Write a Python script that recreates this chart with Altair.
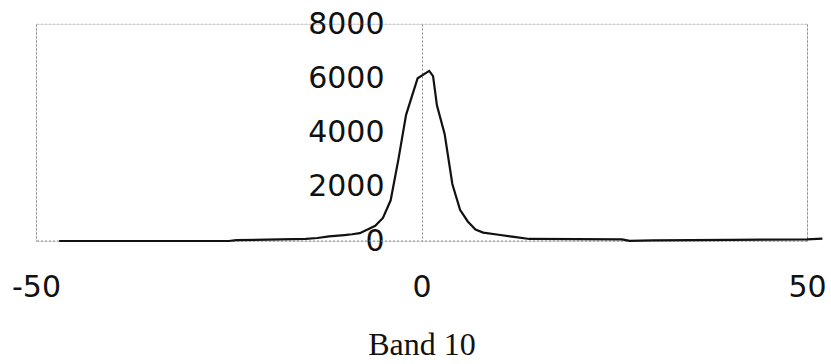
import altair as alt
import pandas as pd

# Band 10 profile: offset vs. intensity
band_offset = [-47, -40, -30, -25, -24, -20, -15, -13.5, -12, -10, -9, -8, -7, -6, -5, -4,
               -3, -2, -1, -0.5, 1, 1.5, 2, 3, 4, 5, 6, 7, 8, 10, 12, 14, 20, 26, 27, 30, 40, 50, 52]
intensity = [0, 0, 0, 0, 30, 50, 75, 110, 170, 220, 250, 290, 420, 560, 850, 1500,
             3000, 4650, 5550, 6000, 6270, 6080, 5000, 3950, 2100, 1150, 720, 420, 310, 230, 150, 75, 70, 60, 5, 20, 40, 60, 90]

x_ticks = [-50, 0, 50]
y_ticks = [0, 2000, 4000, 6000, 8000]
h_grid = [0, 8000]
h_grid_opacity = [1.0, 0.35]

profile = pd.DataFrame({"offset": band_offset, "intensity": intensity})
hgrid = pd.DataFrame({"level": h_grid, "alpha": h_grid_opacity})

x_scale = alt.Scale(domain=[-50, 50], nice=False, zero=False)
y_scale = alt.Scale(domain=[0, 8000], nice=False)

line = alt.Chart(profile).mark_line(color="#111111", strokeWidth=2.2).encode(
    x=alt.X(
        "offset:Q",
        scale=x_scale,
        axis=alt.Axis(
            values=x_ticks,
            labelExpr="'' + datum.value",
            domain=False,
            ticks=False,
            grid=True,
            gridColor="#8a8a8a",
            gridDash=[2, 2],
            gridWidth=1,
            labelFont="DejaVu Sans",
            labelFontSize=30,
            labelColor="#111111",
            labelPadding=31,
            labelFlush=False,
            title="Band 10",
            titleFont="Liberation Serif",
            titleFontSize=32,
            titleFontWeight="normal",
            titleColor="#111111",
            titlePadding=27,
        ),
    ),
    y=alt.Y(
        "intensity:Q",
        scale=y_scale,
        axis=alt.Axis(
            values=y_ticks,
            labelExpr="'' + datum.value",
            offset=-386,
            domain=False,
            ticks=False,
            grid=False,
            labelFont="DejaVu Sans",
            labelFontSize=30,
            labelColor="#111111",
            labelPadding=38,
            labelFlush=False,
            title=None,
        ),
    ),
)

grid_rules = alt.Chart(hgrid).mark_rule(
    color="#8a8a8a", strokeDash=[2, 2], strokeWidth=1
).encode(
    y=alt.Y("level:Q", scale=y_scale),
    opacity=alt.Opacity("alpha:Q", scale=None, legend=None),
)

chart = (
    alt.layer(grid_rules, line)
    .properties(
        width=771,
        height=217,
        autosize=alt.AutoSizeParams(type="none"),
        padding={"left": 36, "top": 24, "right": 24, "bottom": 123},
    )
    .configure_view(stroke=None)
    .configure(background="white")
)

chart.save("out.html", embed_options={"renderer": "svg", "actions": False})
